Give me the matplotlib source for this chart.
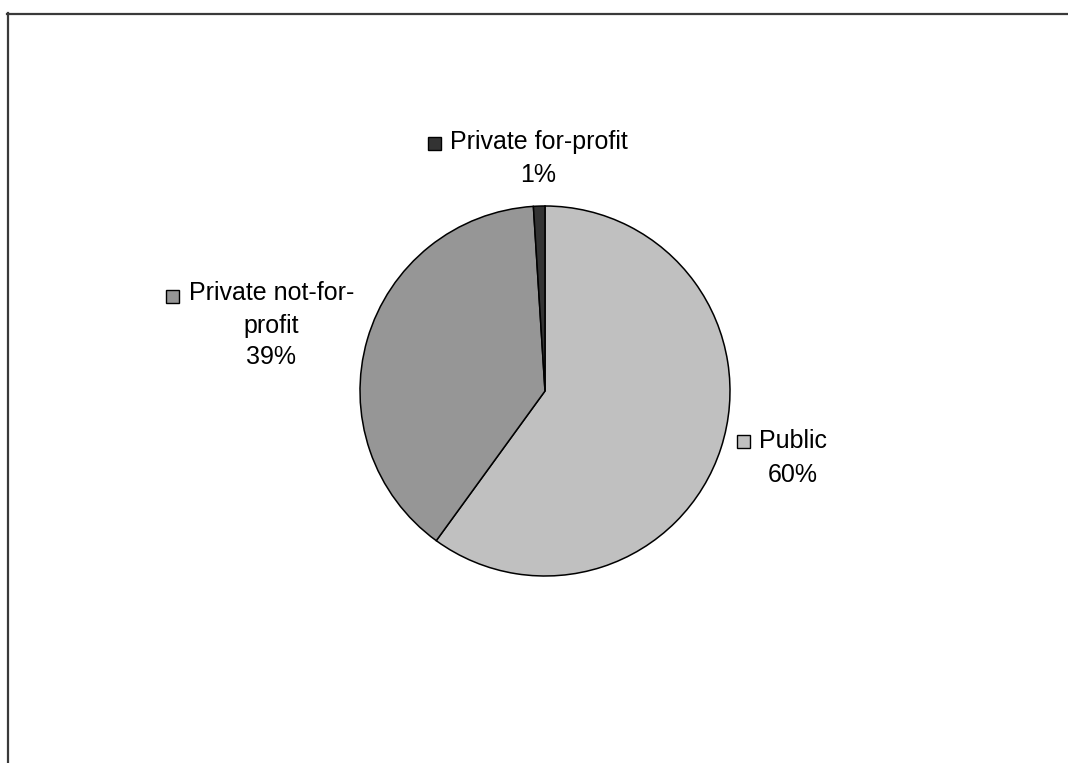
import matplotlib
matplotlib.use("Agg")
import matplotlib.pyplot as plt
from matplotlib.lines import Line2D
from matplotlib.patches import Rectangle

categories = ["Public", "Private not-for-profit", "Private for-profit"]
shares = [60, 39, 1]
colors = ["#C0C0C0", "#969696", "#333333"]

W, H = 1068, 763
plt.rcParams['font.family'] = ['Liberation Sans', 'DejaVu Sans']

fig = plt.figure(figsize=(W / 100, H / 100), dpi=100)
fig.patch.set_facecolor("white")

def fx(x):
    return x / W

def fy(y):
    return 1 - y / H

# pie axes: center (545, 391), radius 185 px
cx, cy, r = 545, 391, 185
ax = fig.add_axes([fx(cx - r), fy(cy + r), 2 * r / W, 2 * r / H])
ax.pie(shares, colors=colors, startangle=90, counterclock=False,
       wedgeprops=dict(edgecolor="black", linewidth=1.1))
ax.set_xlim(-1, 1)
ax.set_ylim(-1, 1)
ax.set_aspect("auto")
ax.axis("off")

# border lines (top and left)
fig.add_artist(Line2D([fx(7), fx(W)], [fy(13.5), fy(13.5)], color="#3a3a3a", lw=1.6))
fig.add_artist(Line2D([fx(8), fx(8)], [fy(13), fy(H)], color="#3a3a3a", lw=1.6))

fs = 18

def key(x0, y0, color, size=13):
    fig.add_artist(Rectangle((fx(x0), fy(y0 + size)), size / W, size / H,
                             transform=fig.transFigure, facecolor=color,
                             edgecolor="black", linewidth=1.0))

# Private for-profit
key(428, 137, colors[2], 13)
fig.text(fx(450), fy(142), "Private for-profit", ha="left", va="center", fontsize=fs)
fig.text(fx(538), fy(175), f"{shares[2]}%", ha="center", va="center", fontsize=fs)

# Private not-for-profit
key(166, 290, colors[1], 13)
fig.text(fx(189), fy(293), "Private not-for-", ha="left", va="center", fontsize=fs)
fig.text(fx(271), fy(326), "profit", ha="center", va="center", fontsize=fs)
fig.text(fx(271), fy(357), f"{shares[1]}%", ha="center", va="center", fontsize=fs)

# Public
key(737, 435, colors[0], 13)
fig.text(fx(759), fy(441), "Public", ha="left", va="center", fontsize=fs)
fig.text(fx(793), fy(475), f"{shares[0]}%", ha="center", va="center", fontsize=fs)

fig.savefig("out.png", dpi=100, facecolor="white")
